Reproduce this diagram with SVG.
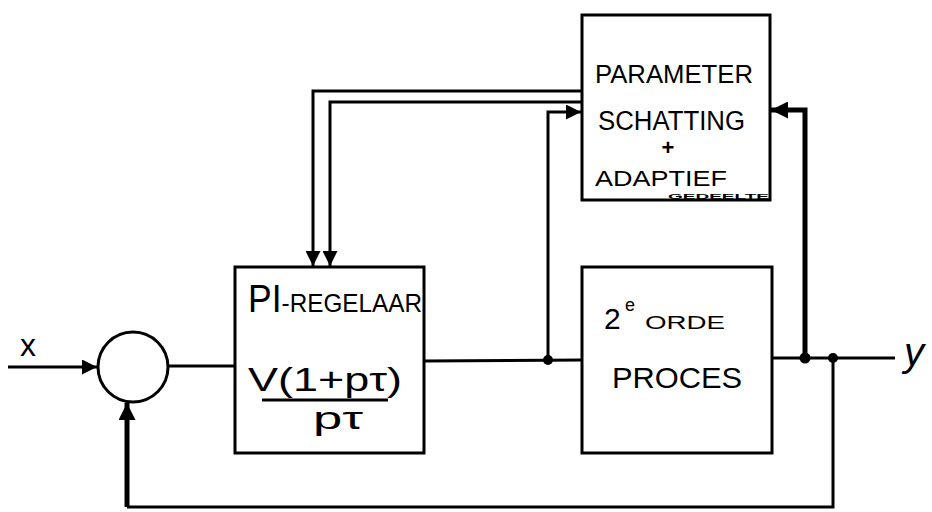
<svg xmlns="http://www.w3.org/2000/svg" width="932" height="512" viewBox="0 0 932 512">
<style>
.box{fill:#fff;stroke:#000;stroke-width:3}
.ln{fill:none;stroke:#000;stroke-width:3}
.thick{fill:none;stroke:#000;stroke-width:5}
.t{font-family:"Liberation Sans",Arial,sans-serif;fill:#000}
</style>
<defs>
<marker id="ah" viewBox="0 0 10 10" refX="10" refY="5" markerWidth="5" markerHeight="5" orient="auto" markerUnits="strokeWidth">
<path d="M0,0 L10,5 L0,10 z" fill="#000"/>
</marker>
<marker id="ahs" viewBox="0 0 10 10" refX="10" refY="5" markerWidth="3.4" markerHeight="3.4" orient="auto" markerUnits="strokeWidth">
<path d="M0,0 L10,5 L0,10 z" fill="#000"/>
</marker>
</defs>
<rect width="932" height="512" fill="#fff"/>
<g id="connectors">
<line class="ln" x1="8" y1="367" x2="97" y2="367" marker-end="url(#ah)"/>
<line class="ln" x1="168" y1="366" x2="235" y2="366"/>
<line class="ln" x1="424" y1="361" x2="582" y2="360"/>
<polyline class="ln" points="548,360 548,112 581,112" marker-end="url(#ah)"/>
<line class="ln" x1="772" y1="358" x2="895" y2="358"/>
<polyline class="thick" points="805,358 805,110 771,110" marker-end="url(#ahs)"/>
<polyline class="ln" points="582,91 313,91 313,266" marker-end="url(#ah)"/>
<polyline class="ln" points="582,102 330,102 330,266" marker-end="url(#ah)"/>
<polyline class="ln" points="833,358 833,507 127,507"/>
<line class="thick" x1="127" y1="507" x2="127" y2="403" marker-end="url(#ahs)"/>
<circle cx="548" cy="360" r="5" fill="#000"/>
<circle cx="805" cy="358" r="5.5" fill="#000"/>
<circle cx="833" cy="358" r="5" fill="#000"/>
</g>
<g id="sum">
<circle cx="133" cy="367" r="35" fill="#fff" stroke="#000" stroke-width="3"/>
</g>
<g id="pi">
<rect class="box" x="235" y="267" width="189" height="186"/>
<text class="t" x="248" y="312" textLength="174" lengthAdjust="spacingAndGlyphs"><tspan font-size="38">PI</tspan><tspan font-size="26">-REGELAAR</tspan></text>
<text class="t" x="248" y="391" font-size="34" textLength="154" lengthAdjust="spacingAndGlyphs">V(1+pτ)</text>
<line class="ln" x1="262" y1="400" x2="388" y2="400"/>
<text class="t" x="313" y="429" font-size="32" textLength="50" lengthAdjust="spacingAndGlyphs">pτ</text>
</g>
<g id="process">
<rect class="box" x="582" y="267" width="190" height="186"/>
<text class="t" x="604" y="329" font-size="30">2</text>
<text class="t" x="625" y="311" font-size="18">e</text>
<text class="t" x="645" y="329" font-size="19" textLength="80" lengthAdjust="spacingAndGlyphs">ORDE</text>
<text class="t" x="612" y="388" font-size="30" textLength="130" lengthAdjust="spacingAndGlyphs">PROCES</text>
</g>
<g id="param">
<rect class="box" x="582" y="15" width="188" height="185"/>
<text class="t" x="595" y="83" font-size="25" textLength="158" lengthAdjust="spacingAndGlyphs">PARAMETER</text>
<text class="t" x="598" y="130" font-size="27" textLength="147" lengthAdjust="spacingAndGlyphs">SCHATTING</text>
<text class="t" x="668" y="155" font-size="22" font-weight="bold" text-anchor="middle">+</text>
<text class="t" x="595" y="186" font-size="22" textLength="132" lengthAdjust="spacingAndGlyphs">ADAPTIEF</text>
<text class="t" x="668" y="198.5" font-size="8" font-weight="bold" textLength="101" lengthAdjust="spacingAndGlyphs">GEDEELTE</text>
</g>
<g id="labels">
<text class="t" x="20" y="356" font-size="32">x</text>
<text class="t" x="904" y="366" font-size="40" font-style="italic">y</text>
</g>
</svg>
